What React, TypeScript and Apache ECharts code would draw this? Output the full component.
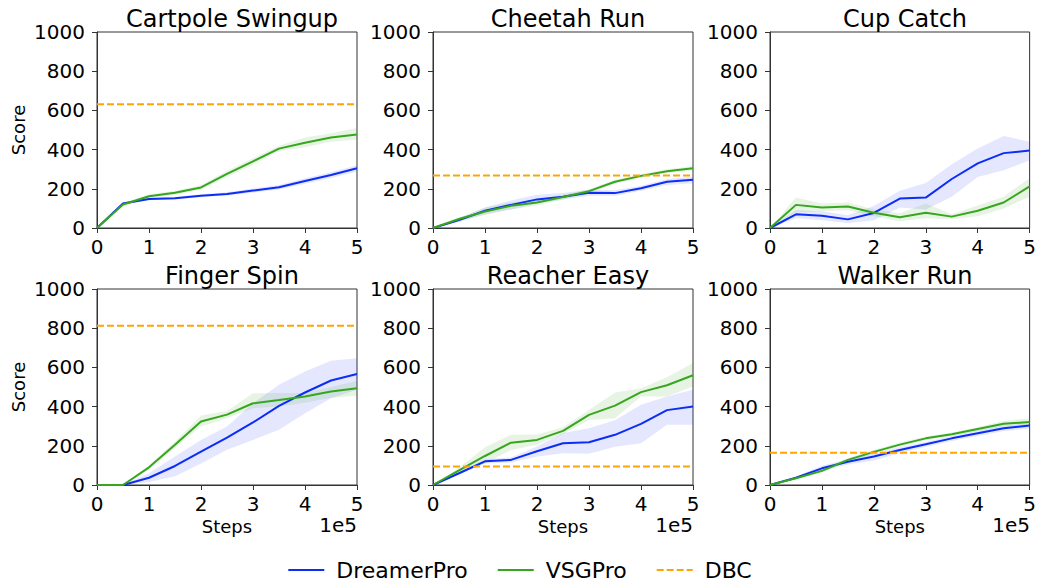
import React, { useEffect, useRef } from "react";
import * as echarts from "echarts";

const FONT = "DejaVu Sans";
const BLUE = "#0b2df5";
const GREEN = "#36a61e";
const ORANGE = "#ffa500";

const steps = [0, 0.5, 1, 1.5, 2, 2.5, 3, 3.5, 4, 4.5, 5];
const titles = ["Cartpole Swingup", "Cheetah Run", "Cup Catch", "Finger Spin", "Reacher Easy", "Walker Run"];
const methods = ["DreamerPro", "VSGPro", "DBC"];
const yTicks = [0, 200, 400, 600, 800, 1000];
const xTicks = [0, 1, 2, 3, 4, 5];

// Cartpole Swingup
const cartpoleDreamer = [0, 125, 148, 152, 165, 174, 191, 208, 240, 270, 305];
const cartpoleDreamerLo = [0, 118, 142, 146, 158, 166, 180, 196, 226, 255, 288];
const cartpoleDreamerHi = [0, 132, 154, 158, 172, 183, 202, 220, 254, 285, 320];
const cartpoleVsg = [0, 120, 162, 180, 207, 276, 340, 405, 435, 462, 477];
const cartpoleVsgLo = [0, 112, 152, 170, 196, 260, 322, 392, 412, 440, 452];
const cartpoleVsgHi = [0, 128, 172, 190, 218, 292, 356, 420, 462, 484, 510];
const cartpoleDbc = 632;

// Cheetah Run
const cheetahDreamer = [0, 40, 88, 118, 146, 160, 180, 178, 203, 236, 246];
const cheetahDreamerLo = [0, 30, 70, 95, 125, 145, 165, 165, 190, 220, 228];
const cheetahDreamerHi = [0, 50, 105, 140, 170, 178, 195, 192, 216, 250, 262];
const cheetahVsg = [0, 46, 84, 113, 130, 158, 188, 236, 266, 290, 305];
const cheetahVsgLo = [0, 38, 65, 95, 115, 145, 178, 226, 256, 280, 294];
const cheetahVsgHi = [0, 54, 105, 130, 145, 170, 198, 246, 276, 300, 316];
const cheetahDbc = 268;

// Cup Catch
const cupDreamer = [0, 70, 63, 44, 77, 150, 155, 250, 330, 382, 395];
const cupDreamerLo = [0, 50, 40, 25, 40, 105, 95, 160, 260, 295, 345];
const cupDreamerHi = [0, 90, 85, 65, 112, 190, 230, 325, 405, 470, 440];
const cupVsg = [0, 118, 105, 110, 78, 55, 78, 58, 88, 130, 212];
const cupVsgLo = [0, 82, 85, 90, 60, 35, 50, 45, 60, 100, 160];
const cupVsgHi = [0, 155, 125, 130, 95, 75, 125, 70, 115, 160, 255];
const cupDbc = null;

// Finger Spin
const fingerDreamer = [0, 0, 37, 97, 170, 242, 319, 404, 472, 533, 566];
const fingerDreamerLo = [0, 0, 15, 45, 110, 180, 230, 282, 366, 443, 486];
const fingerDreamerHi = [0, 0, 60, 145, 230, 298, 417, 511, 579, 634, 647];
const fingerVsg = [0, 0, 90, 205, 324, 359, 417, 434, 452, 477, 494];
const fingerVsgLo = [0, 0, 80, 190, 298, 340, 392, 400, 420, 445, 455];
const fingerVsgHi = [0, 0, 100, 222, 355, 378, 468, 470, 470, 500, 530];
const fingerDbc = 812;

// Reacher Easy
const reacherDreamer = [0, 60, 121, 128, 172, 213, 218, 256, 312, 382, 400];
const reacherDreamerLo = [0, 52, 110, 115, 145, 162, 160, 195, 213, 307, 307];
const reacherDreamerHi = [0, 68, 132, 140, 196, 265, 290, 330, 409, 451, 486];
const reacherVsg = [0, 75, 148, 216, 230, 276, 358, 405, 474, 509, 560];
const reacherVsgLo = [0, 65, 111, 179, 205, 260, 332, 341, 451, 451, 503];
const reacherVsgHi = [0, 88, 193, 256, 258, 295, 383, 472, 494, 550, 622];
const reacherDbc = 94;

// Walker Run
const walkerDreamer = [0, 37, 85, 119, 145, 179, 208, 238, 264, 290, 303];
const walkerDreamerLo = [0, 30, 72, 105, 125, 162, 195, 225, 250, 275, 288];
const walkerDreamerHi = [0, 44, 98, 132, 160, 192, 220, 250, 278, 303, 315];
const walkerVsg = [0, 34, 72, 128, 169, 206, 238, 259, 286, 312, 322];
const walkerVsgLo = [0, 28, 64, 118, 158, 195, 228, 250, 276, 298, 305];
const walkerVsgHi = [0, 40, 80, 138, 180, 217, 248, 268, 296, 326, 340];
const walkerDbc = 165;

const panels = [
  { d: cartpoleDreamer, dLo: cartpoleDreamerLo, dHi: cartpoleDreamerHi, v: cartpoleVsg, vLo: cartpoleVsgLo, vHi: cartpoleVsgHi, dbc: cartpoleDbc },
  { d: cheetahDreamer, dLo: cheetahDreamerLo, dHi: cheetahDreamerHi, v: cheetahVsg, vLo: cheetahVsgLo, vHi: cheetahVsgHi, dbc: cheetahDbc },
  { d: cupDreamer, dLo: cupDreamerLo, dHi: cupDreamerHi, v: cupVsg, vLo: cupVsgLo, vHi: cupVsgHi, dbc: cupDbc },
  { d: fingerDreamer, dLo: fingerDreamerLo, dHi: fingerDreamerHi, v: fingerVsg, vLo: fingerVsgLo, vHi: fingerVsgHi, dbc: fingerDbc },
  { d: reacherDreamer, dLo: reacherDreamerLo, dHi: reacherDreamerHi, v: reacherVsg, vLo: reacherVsgLo, vHi: reacherVsgHi, dbc: reacherDbc },
  { d: walkerDreamer, dLo: walkerDreamerLo, dHi: walkerDreamerHi, v: walkerVsg, vLo: walkerVsgLo, vHi: walkerVsgHi, dbc: walkerDbc },
];

const colLeft = [97, 433, 770];
const rowTop = [32, 289];
const gridW = 260;
const gridH = 196;

function pairs(arr: number[]) {
  return steps.map((x, i) => [x, arr[i]]);
}

function bandSeries(idx: number, lo: number[], hi: number[], color: string, key: string) {
  return {
    type: "custom",
    name: `${key}-band-${idx}`,
    xAxisIndex: idx,
    yAxisIndex: idx,
    silent: true,
    clip: true,
    data: steps.map((x, i) => [x, lo[i], hi[i]]),
    renderItem: (params: any, api: any) => {
      if (params.dataIndex !== 0) return null;
      const pts: number[][] = [];
      for (let i = 0; i < steps.length; i++) pts.push(api.coord([steps[i], hi[i]]));
      for (let i = steps.length - 1; i >= 0; i--) pts.push(api.coord([steps[i], lo[i]]));
      return {
        type: "polygon",
        shape: { points: pts },
        style: { fill: color, stroke: "none" },
      };
    },
  };
}

export default function App() {
  const ref = useRef<HTMLDivElement>(null);
  useEffect(() => {
    if (!ref.current) return;
    const chart = echarts.init(ref.current, undefined, { renderer: "svg" });
    const grids: any[] = [];
    const xAxes: any[] = [];
    const yAxes: any[] = [];
    const series: any[] = [];
    const titleArr: any[] = [];
    const graphics: any[] = [];
    panels.forEach((p, i) => {
      const r = Math.floor(i / 3);
      const c = i % 3;
      const left = colLeft[c];
      const top = rowTop[r];
      grids.push({ left, top, width: gridW, height: gridH, show: true, borderColor: "#333", borderWidth: 1, backgroundColor: "transparent" });
      xAxes.push({
        type: "value",
        gridIndex: i,
        min: xTicks[0],
        max: xTicks[xTicks.length - 1],
        interval: 1,
        axisLine: { show: true, lineStyle: { color: "#333", width: 1 } },
        axisTick: { show: true, inside: false, length: 5, lineStyle: { color: "#333" } },
        axisLabel: { fontSize: 20, fontFamily: FONT, color: "#000", margin: 9, formatter: (v: number) => String(v) },
        splitLine: { show: false },
        name: r === 1 ? "Steps" : "",
        nameLocation: "middle",
        nameGap: 32,
        nameTextStyle: { fontSize: 18, fontFamily: FONT, color: "#000" },
      });
      yAxes.push({
        type: "value",
        gridIndex: i,
        min: yTicks[0],
        max: yTicks[yTicks.length - 1],
        interval: 200,
        axisLine: { show: true, lineStyle: { color: "#333", width: 1 } },
        axisTick: { show: true, inside: false, length: 5, lineStyle: { color: "#333" } },
        axisLabel: { fontSize: 20, fontFamily: FONT, color: "#000", margin: 12, formatter: (v: number) => String(v) },
        splitLine: { show: false },
        name: c === 0 ? "Score" : "",
        nameLocation: "middle",
        nameGap: 70,
        nameRotate: 90,
        nameTextStyle: { fontSize: 18, fontFamily: FONT, color: "#000" },
      });
      titleArr.push({
        text: titles[i],
        left: left + gridW / 2,
        top: top - 30,
        textAlign: "center",
        textStyle: { fontSize: 24, fontWeight: "normal", fontFamily: FONT, color: "#000" },
      });
      if (r === 1) {
        graphics.push({
          type: "text",
          right: 1039 - (left + gridW),
          top: 515,
          style: { text: "1e5", fontSize: 20, fontFamily: FONT, fill: "#000" },
        });
      }
      series.push(bandSeries(i, p.dLo, p.dHi, "rgba(30,60,245,0.12)", "d"));
      series.push(bandSeries(i, p.vLo, p.vHi, "rgba(54,166,30,0.12)", "v"));
      series.push({
        type: "line",
        name: methods[0],
        xAxisIndex: i,
        yAxisIndex: i,
        data: pairs(p.d),
        symbol: "none",
        lineStyle: { color: BLUE, width: 2 },
        itemStyle: { color: BLUE },
      });
      series.push({
        type: "line",
        name: methods[1],
        xAxisIndex: i,
        yAxisIndex: i,
        data: pairs(p.v),
        symbol: "none",
        lineStyle: { color: GREEN, width: 2 },
        itemStyle: { color: GREEN },
      });
      series.push({
        type: "line",
        name: methods[2],
        xAxisIndex: i,
        yAxisIndex: i,
        data: p.dbc == null ? [] : [[xTicks[0], p.dbc], [xTicks[xTicks.length - 1], p.dbc]],
        symbol: "none",
        lineStyle: { color: ORANGE, width: 2, type: [7, 3] },
        itemStyle: { color: ORANGE },
      });
    });
    chart.setOption({
      animation: false,
      backgroundColor: "#fff",
      textStyle: { fontFamily: FONT },
      title: titleArr,
      grid: grids,
      xAxis: xAxes,
      yAxis: yAxes,
      series,
      graphic: graphics,
      legend: {
        data: methods,
        top: 554,
        left: "center",
        itemWidth: 36,
        itemHeight: 14,
        itemGap: 29,
        itemStyle: { opacity: 0 },
        textStyle: { fontSize: 22, fontFamily: FONT, color: "#000", padding: [0, 0, 0, 7] },
      },
    });
    return () => chart.dispose();
  }, []);
  return <div ref={ref} style={{ position: "fixed", left: 0, top: 0, width: 1039, height: 584 }} />;
}
